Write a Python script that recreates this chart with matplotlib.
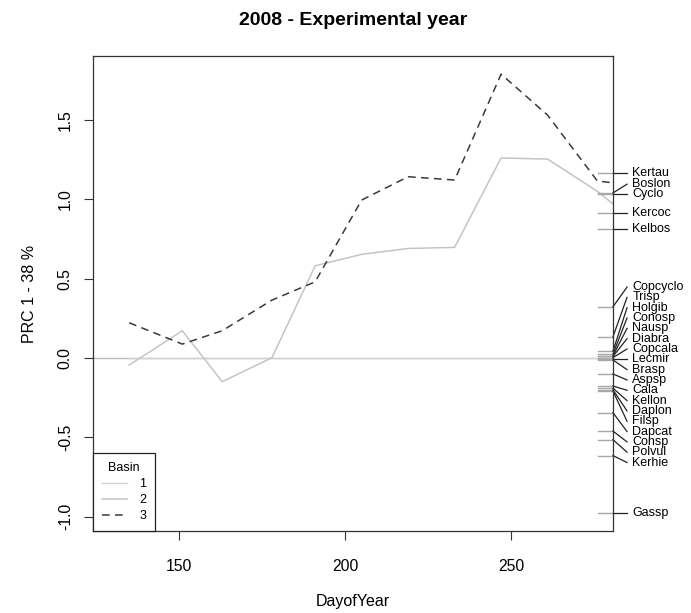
import numpy as np
import matplotlib
matplotlib.use('Agg')
import matplotlib.pyplot as plt

plt.rcParams['font.family'] = ['Liberation Sans', 'DejaVu Sans']

# principal response curve, first axis
days = [135, 151, 163, 178, 191, 205, 219, 233, 247, 261, 276, 280.5]
basin1 = [0, 0, 0, 0, 0, 0, 0, 0, 0, 0, 0, 0]
basin2 = [-0.044, 0.172, -0.149, 0.002, 0.581, 0.653, 0.690, 0.697, 1.260, 1.253, 1.05, 0.974]
basin3 = [0.222, 0.088, 0.172, 0.365, 0.480, 0.995, 1.142, 1.121, 1.788, 1.530, 1.115, 1.104]

# species weights
species = ['Kertau', 'Boslon', 'Cyclo', 'Kercoc', 'Kelbos', 'Copcyclo', 'Trisp',
           'Holgib', 'Conosp', 'Nausp', 'Diabra', 'Copcala', 'Lecmir', 'Brasp',
           'Aspsp', 'Cala', 'Kellon', 'Daplon', 'Filsp', 'Dapcat', 'Consp',
           'Polvul', 'Kerhie', 'Gassp']
sp_scores = [1.167, 1.040, 1.030, 0.911, 0.810, 0.323, 0.134, 0.044, 0.025, 0.015,
             0.010, 0.003, -0.008, -0.012, -0.100, -0.176, -0.190, -0.200, -0.208,
             -0.344, -0.460, -0.514, -0.614, -0.978]

LINE_GRAY = '#c4c4c4'
DASH_DARK = '#3a3a3a'


def stack_labels(x, ht):
    # middle label stays on its score, the rest are pushed away from it
    x = np.asarray(x, float)
    order = np.argsort(x)
    xs = x[order]
    n = len(xs)
    mid = (n + 1) // 2 - 1
    pos = xs.copy()
    for i in range(mid + 1, n):
        pos[i] = max(xs[i], pos[i - 1] + ht)
    for i in range(mid - 1, -1, -1):
        pos[i] = min(xs[i], pos[i + 1] - ht)
    out = np.empty(n)
    out[order] = pos
    return out


fig = plt.figure(figsize=(6.91, 6.13), dpi=100)
ax = fig.add_axes([0.1346, 0.1338, 0.7525, 0.7748])

ax.axhline(0, color='#bebebe', lw=1.0, zorder=1)
ax.plot(days, basin1, color='#d3d3d3', lw=1.0, label='1')
ax.plot(days, basin2, color=LINE_GRAY, lw=1.1, label='2')
ax.plot(days, basin3, color=DASH_DARK, lw=1.1, linestyle=(0, (5, 3.5)), label='3')

ax.set_xlim(124.1, 280.7)
ax.set_ylim(-1.089, 1.902)
ax.set_xticks([150, 200, 250])
ax.set_yticks([-1.0, -0.5, 0.0, 0.5, 1.0, 1.5])
ax.set_yticklabels(['-1.0', '-0.5', '0.0', '0.5', '1.0', '1.5'], rotation=90, va='center')
ax.tick_params(length=6.5, width=0.8, labelsize=11.3, color='#333333')
ax.tick_params(axis='x', pad=14)
ax.tick_params(axis='y', pad=8)
for s in ax.spines.values():
    s.set_linewidth(0.9)
    s.set_color('#333333')

ax.set_xlabel('DayofYear', fontsize=11.5, labelpad=14)
ax.set_ylabel('PRC 1 - 38 %', fontsize=11.5, labelpad=15)
ax.set_title('2008 - Experimental year', fontsize=14, fontweight='bold', pad=22)

# species rug inside the right edge and stacked labels outside it
trans = ax.get_yaxis_transform()
rug = 0.028
ht = 0.065
pos = stack_labels(sp_scores, ht)
for name, sc, p in zip(species, sp_scores, pos):
    ax.plot([1 - rug, 1], [sc, sc], color='#a8a8a8', lw=1.0, transform=trans, clip_on=False)
    ax.plot([1, 1.027], [sc, p], color='#222222', lw=0.9, transform=trans, clip_on=False)
    ax.text(1.037, p, name, fontsize=9, va='center', ha='left', transform=trans)

leg = ax.legend(title='Basin', loc='lower left', borderaxespad=0, fancybox=False,
                edgecolor='#222222', framealpha=1, fontsize=9, title_fontsize=9,
                handlelength=2.0, handletextpad=1.0, borderpad=0.7, labelspacing=0.32)
leg.get_frame().set_linewidth(0.9)
for t in leg.get_texts():
    t.set_ha('right')

fig.savefig('out.png', dpi=100)
